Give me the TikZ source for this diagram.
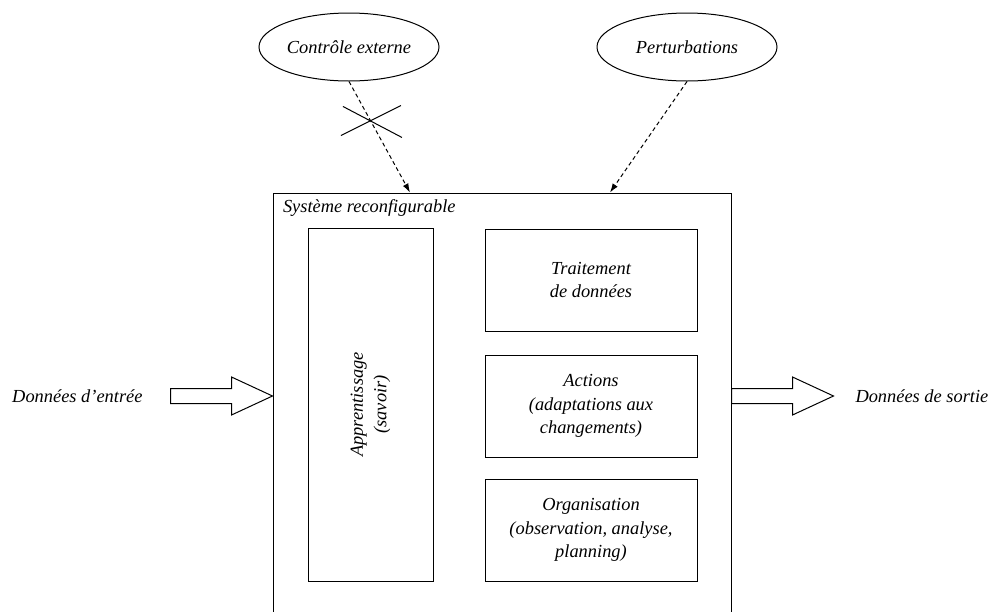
\documentclass[tikz,border=0pt]{standalone}
\usepackage{fontspec}
\setmainfont{Liberation Serif}
\usetikzlibrary{shapes.geometric,positioning,arrows.meta}

\begin{document}
\begin{tikzpicture}[x=0.5pt,y=-0.5pt, font=\fontsize{9.2}{11.8}\selectfont\itshape, line width=0.5pt,
  >={Latex[length=4.5pt,width=3pt]},
  bloc/.style={draw, rectangle, minimum width=106pt, minimum height=51pt, align=center, inner sep=0pt},
  ovale/.style={draw, ellipse, minimum width=90pt, minimum height=34pt, inner sep=0pt},
  fleche/.style={draw, line join=miter},
  pointille/.style={->, dash pattern=on 2pt off 1.5pt}]
\useasboundingbox (0,0) rectangle (991,611);

% systeme
\node[draw, minimum width=229pt, minimum height=216pt, inner sep=0pt] (sys) at (502,409) {};
\node[anchor=north west, inner sep=1pt] (titre) at ([xshift=4pt,yshift=-2.5pt]sys.north west) {Système reconfigurable};

\node[draw, rotate=90, align=center, minimum width=176.5pt, minimum height=62.5pt, inner sep=0pt] (appr) at (370.5,404.5) {Apprentissage\\(savoir)};
\node[bloc] (trait) at (591,280) {Traitement\\de données};
\node[bloc, below=11.5pt of trait] (act) {Actions\\(adaptations aux\\changements)};
\node[bloc, below=10.5pt of act] (orga) {Organisation\\(observation, analyse,\\planning)};

% influences externes
\node[ovale] (ctrl) at (349,47) {Contrôle externe};
\node[ovale] (pert) at (687,47) {Perturbations};
\coordinate (sysA) at (sys.north -| 410,0);
\coordinate (sysB) at (sys.north -| 610,0);
\draw[pointille] (ctrl.south) -- coordinate[pos=0.36] (coupe) (sysA);
\draw[pointille] (pert.south) -- (sysB);
\draw (coupe) ++(-30,14) -- ++(60,-30) (coupe) ++(-28,-15) -- ++(59,31);

% entree / sortie
\coordinate (inTip) at (sys.west |- 0,396);
\coordinate (inTail) at (171,396);
\draw[fleche] (inTip) -- ++(-41,-19) -- ++(0,11.5) -- ++(-61,0) -- ++(0,15) -- ++(61,0) -- ++(0,11.5) -- cycle;
\node[left=14pt of inTail, inner sep=0pt] (entree) {Données d'entrée};

\coordinate (outTail) at (sys.east |- 0,396);
\coordinate (outTip) at (833,396);
\draw[fleche] (outTail) ++(0,-7.5) -- ++(61,0) -- ++(0,-11.5) -- ++(41,19) -- ++(-41,19) -- ++(0,-11.5) -- ++(-61,0) -- cycle;
\node[right=11pt of outTip, inner sep=0pt] (sortie) {Données de sortie};
\end{tikzpicture}
\end{document}
